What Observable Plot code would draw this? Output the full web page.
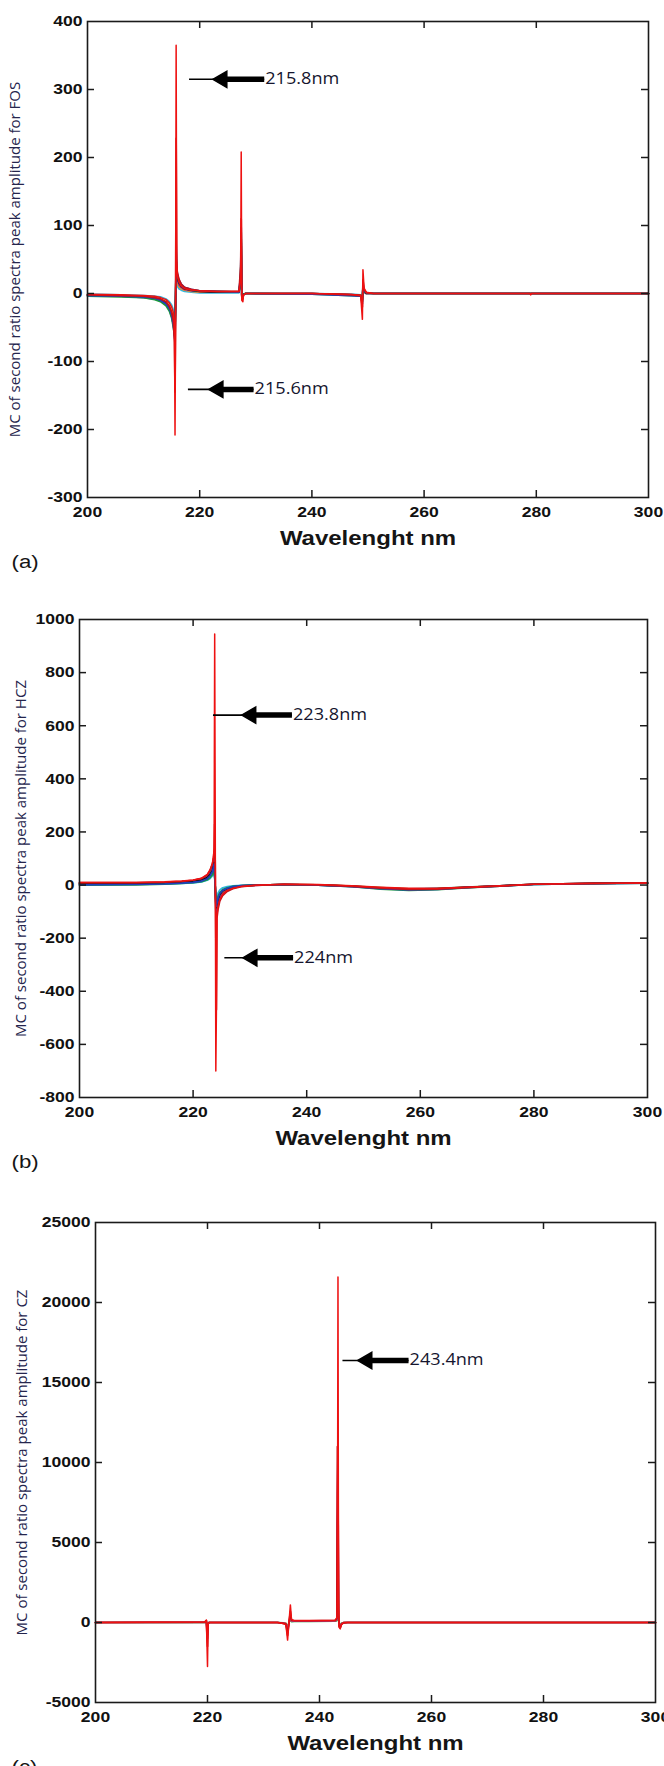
<!DOCTYPE html>
<html>
<head>
<meta charset="utf-8">
<script src="https://cdn.jsdelivr.net/npm/d3@7"></script>
<script src="https://cdn.jsdelivr.net/npm/@observablehq/plot@0.6"></script>
<style>
  html, body { margin: 0; padding: 0; background: #fff; overflow: hidden; }
  #root { position: relative; width: 664px; height: 1766px; overflow: hidden; }
  #root svg { position: absolute; left: 0; }
</style>
</head>
<body>
<div id="root"></div>
<script>
// ---------- shared ticks ----------
const xTicks = [200, 220, 240, 260, 280, 300];
const xLabel = "Wavelenght nm";

// ---------- panel (a) FOS ----------
const wlA = [200,206,210,212,213,214,214.6,215,215.3,215.5,215.6,215.7,215.8,215.9,216.0,216.3,216.7,217.3,218.5,220,223,227.0,227.3,227.4,227.5,227.7,227.8,228.2,229,240,247,248.7,249.0,249.1,249.3,249.7,251,278.9,279.0,279.1,300];
const aCyan   = [-1,-2,-3,-4,-5,-8,-12,-17,-24,-32,-30,-5,30,16,11,7,5,3,2,1,1,1,12,55,-2,-3,-1,0,0,0,-1,-2,-6,6,2,0,0,0,0,0,0];
const aOrange = [-2,-3,-4,-6,-8,-12,-18,-26,-36,-46,-42,-8,40,22,15,10,7,5,3,2,2,2,18,70,-2,-3,-1,0,0,0,-2,-2,-8,8,2,0,0,0,0,0,0];
const aPurple = [-3,-4,-6,-8,-11,-16,-24,-34,-46,-58,-52,-10,48,28,20,13,9,6,4,3,2,2,20,75,-2,-4,-1,0,0,0,-2,-3,-9,9,2,0,0,0,0,0,0];
const aBlack  = [-2,-3,-5,-7,-9,-14,-21,-30,-42,-52,-56,-12,52,32,24,16,11,7,5,3,2,2,22,80,-3,-4,-1,0,0,0,-2,-3,-10,10,3,0,0,0,0,0,0];
const aGreen  = [-4,-5,-6,-9,-12,-18,-26,-36,-50,-62,-62,-15,62,36,27,18,12,8,5,4,3,2,25,90,-3,-5,-1,0,0,-1,-3,-4,-12,12,3,1,0,0,0,0,0];
const aBlue   = [-3,-4,-5,-7,-10,-15,-22,-32,-46,-64,-70,-20,75,40,30,20,14,9,6,4,3,2,30,97,-4,-6,-2,0,0,-1,-3,-4,-15,15,4,1,0,0,-1,0,0];
const aDark   = [-2,-3,-4,-6,-8,-12,-19,-28,-40,-72,-145,-30,228,45,32,21,14,9,6,4,3,3,40,110,-5,-8,-2,0,0,0,-2,-3,-20,20,6,1,0,0,-1,0,0];
const aRed    = [-1,-2,-3,-4,-6,-9,-14,-20,-28,-45,-208,-40,365,50,26,17,11,7,5,4,3,3,20,208,-10,-12,-3,0,0,0,-1,-3,-38,35,8,2,0,0,-2,0,0];
const yTicksA = [-300,-200,-100,0,100,200,300,400];
const yLabelA = "MC of second ratio spectra peak amplitude for FOS";
const arrowTipA  = [218.1, 217.9];
const arrowHeadA = [224.0, 223.3];
const arrowEndA  = [231.5, 229.6];
const arrowYA    = [315, -141];
const arrowTextA = ["215.8nm", "215.6nm"];

// ---------- panel (b) HCZ ----------
const wlB = [200,210,215,218,220,221.5,222.5,223.0,223.4,223.6,223.7,223.8,223.9,224.0,224.1,224.2,224.4,224.7,225.2,226,227,228.5,231,236,242,248,253,258,263,268,274,280,290,300];
const bCyan   = [2,3,4,6,8,12,18,25,34,45,55,25,-5,-40,-55,-45,-30,-18,-10,-6,-3,-1,0,2,0,-4,-10,-14,-12,-8,-3,2,5,7];
const bOrange = [7,8,9,12,15,20,30,42,60,80,95,40,-10,-80,-95,-80,-60,-40,-26,-15,-8,-3,0,2,1,-4,-10,-14,-13,-8,-3,3,6,8];
const bPurple = [6,7,9,13,17,24,36,52,72,95,110,50,-12,-95,-110,-95,-70,-48,-32,-19,-11,-4,-1,2,0,-5,-13,-17,-15,-9,-3,3,6,8];
const bBlack  = [5,6,8,11,14,19,28,40,55,72,85,40,-8,-70,-85,-70,-52,-35,-22,-13,-7,-3,0,2,1,-4,-11,-15,-13,-9,-3,3,6,8];
const bGreen  = [0,1,3,6,9,13,20,28,40,55,65,30,-6,-55,-70,-60,-42,-28,-17,-10,-5,-2,0,2,0,-6,-15,-20,-17,-11,-4,2,5,7];
const bBlue   = [1,2,4,7,10,15,24,35,50,68,80,40,-10,-65,-80,-68,-48,-32,-20,-12,-6,-2,0,2,0,-6,-14,-18,-16,-10,-4,2,5,7];
const bDark   = [9,9,11,14,18,25,38,56,80,105,130,230,80,-200,-470,-125,-90,-60,-40,-24,-14,-6,-1,3,1,-5,-12,-16,-15,-10,-4,3,6,8];
const bRed    = [10,10,12,15,19,26,40,58,82,110,140,945,225,-700,-480,-110,-80,-55,-35,-20,-12,-5,-1,3,2,-3,-8,-12,-12,-8,-3,3,6,8];
const yTicksB = [-800,-600,-400,-200,0,200,400,600,800,1000];
const yLabelB = "MC of second ratio spectra peak amplitude for HCZ";
const arrowTipB  = [223.5, 225.5];
const arrowHeadB = [230.2, 230.4];
const arrowEndB  = [237.4, 237.6];
const arrowYB    = [640, -274];
const arrowTextB = ["223.8nm", "224nm"];

// ---------- panel (c) CZ ----------
const wlC = [200,219.5,219.8,219.9,220.0,220.1,220.3,220.6,232.5,233.5,234.0,234.3,234.5,234.8,235.0,235.5,238,242.8,243.1,243.2,243.3,243.4,243.5,243.7,243.9,244.3,245,300];
const cGreen  = [0,5,40,-200,-400,-20,0,0,0,-20,-50,-300,-60,200,60,70,70,90,120,3000,4000,200,-100,-150,-50,0,0,0];
const cOrange = [0,10,60,-300,-600,-30,0,0,0,-30,-60,-400,-80,300,80,80,80,100,150,5000,6000,300,-120,-200,-60,-10,0,0];
const cPurple = [0,10,80,-400,-800,-40,0,0,0,-40,-80,-500,-100,400,100,90,90,110,180,6000,7500,400,-150,-250,-80,-10,0,0];
const cMagenta= [0,20,100,-600,-1000,-60,0,0,0,-40,-90,-600,-120,500,120,100,100,120,200,8000,10500,600,-200,-300,-100,-10,0,0];
const cDark   = [0,20,120,-800,-1500,-80,0,0,0,-50,-100,-800,-150,700,150,110,110,130,250,11000,9000,800,-250,-350,-120,-20,0,0];
const cRed    = [0,30,150,-1250,-2750,-100,0,0,0,-60,-120,-1100,-200,1100,180,120,120,140,300,2000,21600,1500,-300,-400,-150,-20,0,0];
const yTicksC = [-5000,0,5000,10000,15000,20000,25000];
const yLabelC = "MC of second ratio spectra peak amplitude for CZ";
const arrowTipC  = [244.1];
const arrowHeadC = [248.5];
const arrowEndC  = [255.9];
const arrowYC    = [16375];
const arrowTextC = ["243.4nm"];

// ---------- drawing ----------
const W = 664;
const STRETCH = 1.17;
const TICKFONT = "'Liberation Sans', Arial, sans-serif";
const TEXTFONT = "'Open Sans', 'DejaVu Sans', sans-serif";

// widen horizontal texts a little (the reference is horizontally stretched)
function stretchTexts(svg, k) {
  svg.querySelectorAll("text").forEach(t => {
    let tr = t.getAttribute("transform") || "";
    if (tr.includes("rotate")) return;
    const x = t.getAttribute("x");
    if (x !== null && !/[a-z%]/i.test(x)) {
      tr += ` translate(${parseFloat(x) || 0},0)`;
      t.removeAttribute("x");
    }
    t.setAttribute("transform", (tr + ` scale(${k},1)`).trim());
  });
}

function panel(o) {
  const plotH = o.height - o.mt - o.mb;
  const plotW = W - o.ml - o.mr;
  const innerX = xTicks.filter(t => t > 200 && t < 300);
  const innerY = o.yTicks.filter(t => t > o.yDomain[0] && t < o.yDomain[1]);
  const arrows = o.arrowTip.map((t, i) => ({tip: t, head: o.arrowHead[i], end: o.arrowEnd[i], y: o.arrowY[i], text: o.arrowText[i]}));
  const marks = [];
  for (const s of o.series) {
    marks.push(Plot.line(o.wl.map((x, i) => ({x, y: s.y[i]})), {x: "x", y: "y", stroke: s.color, strokeWidth: s.w || 1.7}));
  }
  marks.push(
    Plot.frame({stroke: "#1a1a1a", strokeWidth: 1.6}),
    Plot.ruleX(innerX, {x: d => d, insetTop: plotH - 7, stroke: "#1a1a1a", strokeWidth: 1.5}),
    Plot.ruleX(innerX, {x: d => d, insetBottom: plotH - 7, stroke: "#1a1a1a", strokeWidth: 1.5}),
    Plot.ruleY(innerY, {y: d => d, insetRight: plotW - 7, stroke: "#1a1a1a", strokeWidth: 1.5}),
    Plot.ruleY(innerY, {y: d => d, insetLeft: plotW - 7, stroke: "#1a1a1a", strokeWidth: 1.5}),
    Plot.axisX(xTicks, {anchor: "bottom", tickSize: 0, tickPadding: 9, tickFormat: d => String(d), label: null,
      fontFamily: TICKFONT, fontSize: 15, fontWeight: "bold", fill: "#111"}),
    Plot.axisY(o.yTicks, {anchor: "left", tickSize: 0, tickPadding: 5, tickFormat: d => String(d), label: null,
      fontFamily: TICKFONT, fontSize: 15, fontWeight: "bold", fill: "#111"}),
    // arrows
    Plot.link(arrows, {x1: "tip", x2: "end", y1: "y", y2: "y", stroke: "#000", strokeWidth: 1.6}),
    Plot.link(arrows, {x1: "head", x2: "end", y1: "y", y2: "y", stroke: "#000", strokeWidth: 5.5}),
    Plot.dot(arrows, {x: "head", y: "y", symbol: "triangle", r: 6, rotate: -90, fill: "#000", stroke: "#000"}),
    Plot.text(arrows, {x: "end", y: "y", text: "text", textAnchor: "start", dx: 1, fontFamily: TEXTFONT, fontSize: 15.5, fill: "#15152e"}),
    // titles
    Plot.text([o.yLabel], {text: d => d, frameAnchor: "left", dx: -(o.ml - o.yLabelX), rotate: -90, textAnchor: "middle",
      lineAnchor: "middle", fontFamily: TEXTFONT, fontSize: 15, fill: "#25254d"}),
    Plot.text([xLabel], {text: d => d, frameAnchor: "bottom", dy: 41, lineAnchor: "middle",
      fontFamily: TICKFONT, fontSize: 20.5, fontWeight: "bold", fill: "#151515"}),
    Plot.text([o.letter], {text: d => d, frameAnchor: "bottom-left", dx: -(o.ml - 11), dy: 64, textAnchor: "start",
      lineAnchor: "middle", fontFamily: TICKFONT, fontSize: 19, fill: "#151515"})
  );
  const svg = Plot.plot({
    width: W, height: o.height,
    marginLeft: o.ml, marginRight: o.mr, marginTop: o.mt, marginBottom: o.mb,
    x: {domain: [200, 300]},
    y: {domain: o.yDomain},
    style: {background: "transparent", fontFamily: TICKFONT, overflow: "visible"},
    marks
  });
  stretchTexts(svg, STRETCH);
  svg.style.top = o.top + "px";
  return svg;
}

const root = document.getElementById("root");
root.appendChild(panel({
  top: 0, height: 580, ml: 87, mr: 16, mt: 21, mb: 83,
  wl: wlA, yDomain: [-300, 400], yTicks: yTicksA, yLabel: yLabelA, yLabelX: 15, letter: "(a)",
  arrowTip: arrowTipA, arrowHead: arrowHeadA, arrowEnd: arrowEndA, arrowY: arrowYA, arrowText: arrowTextA,
  series: [
    {y: aCyan, color: "#2fb8e0"}, {y: aOrange, color: "#f08a1a"}, {y: aPurple, color: "#7a2fa0"},
    {y: aBlack, color: "#111111"}, {y: aGreen, color: "#1a9a3a"}, {y: aBlue, color: "#1f3fbf"},
    {y: aDark, color: "#c0141c"}, {y: aRed, color: "#ee1111", w: 1.5}
  ]
}));
root.appendChild(panel({
  top: 580, height: 600, ml: 79, mr: 17, mt: 39, mb: 83,
  wl: wlB, yDomain: [-800, 1000], yTicks: yTicksB, yLabel: yLabelB, yLabelX: 21, letter: "(b)",
  arrowTip: arrowTipB, arrowHead: arrowHeadB, arrowEnd: arrowEndB, arrowY: arrowYB, arrowText: arrowTextB,
  series: [
    {y: bCyan, color: "#2fb8e0"}, {y: bOrange, color: "#f08a1a"}, {y: bPurple, color: "#7a2fa0"},
    {y: bBlack, color: "#111111"}, {y: bGreen, color: "#1a9a3a"}, {y: bBlue, color: "#1f3fbf"},
    {y: bDark, color: "#c0141c"}, {y: bRed, color: "#ee1111", w: 1.5}
  ]
}));
root.appendChild(panel({
  top: 1180, height: 620, ml: 95, mr: 9, mt: 42, mb: 98,
  wl: wlC, yDomain: [-5000, 25000], yTicks: yTicksC, yLabel: yLabelC, yLabelX: 22, letter: "(c)",
  arrowTip: arrowTipC, arrowHead: arrowHeadC, arrowEnd: arrowEndC, arrowY: arrowYC, arrowText: arrowTextC,
  series: [
    {y: cGreen, color: "#1a9a3a"}, {y: cOrange, color: "#f08a1a"}, {y: cPurple, color: "#7a2fa0"},
    {y: cMagenta, color: "#d02f6f"}, {y: cDark, color: "#b0141c"}, {y: cRed, color: "#ee1111", w: 1.5}
  ]
}));
</script>
</body>
</html>
